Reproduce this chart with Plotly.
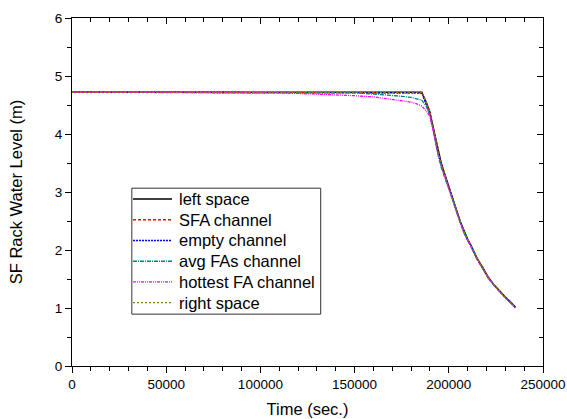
import plotly.graph_objects as go

# Time axis (s)
time_s = [0, 50000, 100000, 110000, 120000, 130000, 140000, 150000, 160000,
          170000, 175000, 180000, 183000, 185700, 188000, 190000, 192000,
          194000, 196000, 198000, 200000, 202000, 204000, 206000, 208000,
          210000, 212000, 215000, 218000, 221000, 224000, 227000, 230000,
          233000, 235300]

# Water level (m) in each region of the spent fuel rack
left_space = [4.72, 4.72, 4.72, 4.72, 4.72, 4.72, 4.72, 4.72, 4.72,
              4.72, 4.72, 4.72, 4.72, 4.72, 4.55, 4.38, 4.08,
              3.76, 3.50, 3.30, 3.11, 2.90, 2.70, 2.50, 2.33,
              2.19, 2.07, 1.86, 1.70, 1.53, 1.40, 1.29, 1.19,
              1.10, 1.02]
sfa_channel = [4.72, 4.72, 4.72, 4.72, 4.72, 4.72, 4.72, 4.72, 4.72,
               4.72, 4.72, 4.72, 4.72, 4.71, 4.54, 4.36, 4.06,
               3.74, 3.49, 3.28, 3.10, 2.89, 2.68, 2.49, 2.32,
               2.18, 2.06, 1.85, 1.69, 1.52, 1.40, 1.28, 1.18,
               1.09, 1.01]
empty_channel = [4.72, 4.72, 4.72, 4.72, 4.72, 4.72, 4.72, 4.72, 4.72,
                 4.72, 4.72, 4.72, 4.71, 4.70, 4.52, 4.34, 4.04,
                 3.72, 3.47, 3.27, 3.08, 2.88, 2.67, 2.48, 2.31,
                 2.17, 2.05, 1.84, 1.68, 1.52, 1.39, 1.28, 1.18,
                 1.09, 1.02]
avg_fa_channel = [4.72, 4.72, 4.72, 4.72, 4.72, 4.72, 4.72, 4.71, 4.69,
                  4.67, 4.65, 4.63, 4.61, 4.58, 4.48, 4.33, 4.02,
                  3.68, 3.42, 3.24, 3.07, 2.87, 2.67, 2.47, 2.30,
                  2.17, 2.05, 1.85, 1.68, 1.52, 1.39, 1.28, 1.18,
                  1.09, 1.01]
hottest_fa_channel = [4.72, 4.72, 4.72, 4.71, 4.70, 4.69, 4.68, 4.66, 4.64,
                      4.60, 4.57, 4.55, 4.52, 4.48, 4.40, 4.30, 4.02,
                      3.70, 3.45, 3.25, 3.06, 2.86, 2.66, 2.47, 2.30,
                      2.16, 2.04, 1.84, 1.68, 1.51, 1.39, 1.27, 1.17,
                      1.08, 1.00]
right_space = [4.72, 4.72, 4.72, 4.72, 4.72, 4.72, 4.72, 4.72, 4.72,
               4.72, 4.72, 4.72, 4.72, 4.72, 4.55, 4.37, 4.07,
               3.75, 3.49, 3.29, 3.10, 2.89, 2.69, 2.49, 2.32,
               2.18, 2.06, 1.85, 1.69, 1.52, 1.40, 1.28, 1.18,
               1.09, 1.01]

series_names = ["left space", "SFA channel", "empty channel",
                "avg FAs channel", "hottest FA channel", "right space"]
series_values = [left_space, sfa_channel, empty_channel,
                 avg_fa_channel, hottest_fa_channel, right_space]
series_colors = ["#000000", "#FF0000", "#0000FF", "#008080", "#FF00FF", "#808000"]
series_dashes = ["solid", "3px,2px", "2px,1px", "4px,1px,1px,1px",
                 "3px,1px,1px,1px,1px,1px", "2px,2px"]

FONT = "Arial, Liberation Sans, sans-serif"

fig = go.Figure()
for name, vals, color, dash in zip(series_names, series_values,
                                   series_colors, series_dashes):
    fig.add_trace(go.Scatter(
        x=time_s, y=vals, name=name, mode="lines",
        line=dict(color=color, width=1.3, dash=dash),
        showlegend=False,
    ))

# Invisible anchor trace so the top/right frame axes are drawn
fig.add_trace(go.Scatter(x=[0], y=[0], xaxis="x2", yaxis="y2", mode="markers",
                         marker=dict(opacity=0), showlegend=False,
                         hoverinfo="skip"))

# Boxed legend inside the plot area (paper coordinates)
leg_x0, leg_x1 = 0.127, 0.528
leg_top, leg_bottom = 0.511, 0.149
row_top, row_step = 0.480, 0.0596
sample_x0, sample_x1, text_x = 0.1295, 0.2123, 0.2230

shapes = [dict(type="rect", xref="paper", yref="paper",
               x0=leg_x0, x1=leg_x1, y0=leg_bottom, y1=leg_top,
               line=dict(color="#333333", width=1), fillcolor="white",
               layer="above")]
annotations = []
for i, (name, color, dash) in enumerate(zip(series_names, series_colors, series_dashes)):
    yc = row_top - i * row_step
    shapes.append(dict(type="line", xref="paper", yref="paper",
                       x0=sample_x0, x1=sample_x1, y0=yc, y1=yc,
                       line=dict(color=color, width=1.4, dash=dash),
                       layer="above"))
    annotations.append(dict(text=name, xref="paper", yref="paper",
                            x=text_x, y=yc, xanchor="left", yanchor="middle",
                            showarrow=False,
                            font=dict(size=16.5, family=FONT, color="black")))

x_range = [0, 250000]
y_range = [0, 6]

fig.update_layout(
    width=567, height=419,
    margin=dict(l=72, r=24, t=18, b=53, autoexpand=False),
    paper_bgcolor="white", plot_bgcolor="white",
    font=dict(family=FONT, color="black", size=13.5),
    xaxis=dict(
        range=x_range, dtick=50000, tick0=0, tickformat="d",
        showgrid=False, zeroline=False, automargin=False,
        showline=True, linecolor="black", linewidth=1,
        ticks="outside", ticklen=6, tickwidth=1, tickcolor="black",
        minor=dict(dtick=10000, ticks="outside", ticklen=4, tickcolor="black", showgrid=False),
        title=dict(text="Time (sec.)", font=dict(size=16.5), standoff=12),
        tickfont=dict(size=13.5),
    ),
    yaxis=dict(
        range=y_range, dtick=1, tick0=0,
        showgrid=False, zeroline=False, automargin=False,
        showline=True, linecolor="black", linewidth=1,
        ticks="outside", ticklen=6, tickwidth=1, tickcolor="black",
        minor=dict(dtick=0.5, ticks="outside", ticklen=4, tickcolor="black", showgrid=False),
        title=dict(text="SF Rack Water Level (m)", font=dict(size=16.5), standoff=28),
        tickfont=dict(size=13.5),
    ),
    xaxis2=dict(
        overlaying="x", side="top", range=x_range, dtick=50000, tick0=0,
        showgrid=False, zeroline=False, showticklabels=False, automargin=False,
        showline=True, linecolor="black", linewidth=1,
        ticks="inside", ticklen=6, tickcolor="black",
        minor=dict(dtick=10000, ticks="inside", ticklen=4, tickcolor="black", showgrid=False),
    ),
    yaxis2=dict(
        overlaying="y", side="right", range=y_range, dtick=1, tick0=0,
        showgrid=False, zeroline=False, showticklabels=False, automargin=False,
        showline=True, linecolor="black", linewidth=1,
        ticks="inside", ticklen=6, tickcolor="black",
        minor=dict(dtick=0.5, ticks="inside", ticklen=4, tickcolor="black", showgrid=False),
    ),
    shapes=shapes,
    annotations=annotations,
    showlegend=False,
)

fig.write_html("out.html")
